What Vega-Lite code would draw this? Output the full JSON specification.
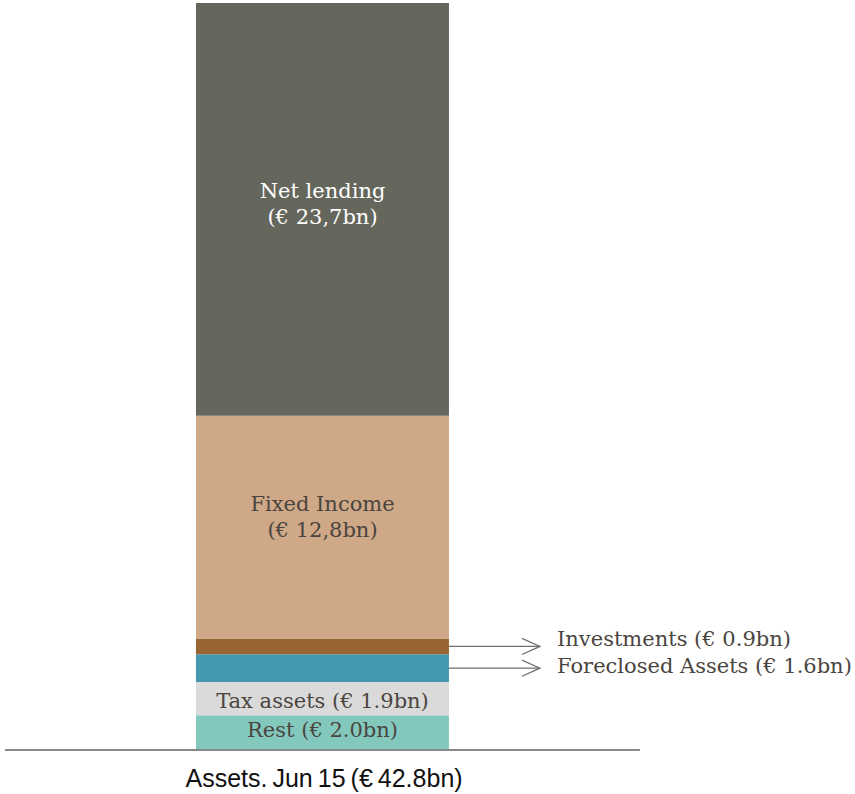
{
  "$schema": "https://vega.github.io/schema/vega-lite/v6.json",
  "width": 855,
  "height": 747,
  "padding": {"top": 3, "bottom": 44, "left": 0, "right": 0},
  "autosize": "none",
  "background": "white",
  "config": {"view": {"stroke": null}},
  "data": {"values": [
    {"name": "Rest", "value": 2.0, "order": 1, "label": "Rest (€ 2.0bn)"},
    {"name": "Tax assets", "value": 1.9, "order": 2, "label": "Tax assets (€ 1.9bn)"},
    {"name": "Foreclosed Assets", "value": 1.6, "order": 3, "label": "Foreclosed Assets (€ 1.6bn)"},
    {"name": "Investments", "value": 0.9, "order": 4, "label": "Investments (€ 0.9bn)"},
    {"name": "Fixed Income", "value": 12.8, "order": 5, "label": "Fixed Income\n(€ 12,8bn)"},
    {"name": "Net lending", "value": 23.7, "order": 6, "label": "Net lending\n(€ 23,7bn)"}
  ]},
  "transform": [
    {"stack": "value", "groupby": [], "sort": [{"field": "order", "order": "ascending"}], "as": ["y0", "y1"]},
    {"calculate": "(datum.y0 + datum.y1) / 2", "as": "mid"}
  ],
  "encoding": {
    "y": {"field": "mid", "type": "quantitative", "scale": {"domain": [0, 42.9], "nice": false, "zero": false}, "axis": null}
  },
  "layer": [
    {
      "mark": {"type": "bar"},
      "encoding": {
        "x": {"datum": 22.92, "type": "quantitative", "scale": {"domain": [0, 100], "nice": false, "zero": false}, "axis": null},
        "x2": {"datum": 52.51},
        "y": {"field": "y0", "type": "quantitative"},
        "y2": {"field": "y1"},
        "color": {"field": "name", "type": "nominal", "legend": null,
          "scale": {"domain": ["Rest", "Tax assets", "Foreclosed Assets", "Investments", "Fixed Income", "Net lending"],
                    "range": ["#83C8BC", "#DADADA", "#4398B0", "#996633", "#CFA888", "#66675C"]}}
      }
    },
    {
      "transform": [{"filter": "datum.name == 'Net lending'"}],
      "mark": {"type": "text", "font": "DejaVu Serif", "fontSize": 21, "lineBreak": "\n", "lineHeight": 26, "baseline": "middle", "align": "center", "dy": -17, "color": "#ffffff"},
      "encoding": {"x": {"datum": 37.72, "type": "quantitative"}, "text": {"field": "label"}}
    },
    {
      "transform": [{"filter": "datum.name == 'Fixed Income'"}],
      "mark": {"type": "text", "font": "DejaVu Serif", "fontSize": 21, "lineBreak": "\n", "lineHeight": 26, "baseline": "middle", "align": "center", "dy": -22, "color": "#4a4540"},
      "encoding": {"x": {"datum": 37.72, "type": "quantitative"}, "text": {"field": "label"}}
    },
    {
      "transform": [{"filter": "datum.name == 'Tax assets'"}],
      "mark": {"type": "text", "font": "DejaVu Serif", "fontSize": 21, "baseline": "middle", "align": "center", "dy": 3, "color": "#4a4540"},
      "encoding": {"x": {"datum": 37.72, "type": "quantitative"}, "text": {"field": "label"}}
    },
    {
      "transform": [{"filter": "datum.name == 'Rest'"}],
      "mark": {"type": "text", "font": "DejaVu Serif", "fontSize": 21, "baseline": "middle", "align": "center", "dy": -2, "color": "#4a4540"},
      "encoding": {"x": {"datum": 37.72, "type": "quantitative"}, "text": {"field": "label"}}
    },
    {
      "transform": [{"filter": "datum.name == 'Investments' || datum.name == 'Foreclosed Assets'"}],
      "mark": {"type": "rule", "color": "#707070", "strokeWidth": 1.3},
      "encoding": {"x": {"datum": 52.51, "type": "quantitative"}, "x2": {"datum": 63.16}}
    },
    {
      "transform": [{"filter": "datum.name == 'Investments' || datum.name == 'Foreclosed Assets'"}],
      "mark": {"type": "point", "shape": "M-1,-0.9L1,0L-1,0.9", "size": 324, "filled": false, "color": "#707070", "strokeWidth": 1.3, "opacity": 1},
      "encoding": {"x": {"datum": 62.1, "type": "quantitative"}}
    },
    {
      "transform": [{"filter": "datum.name == 'Investments'"}],
      "mark": {"type": "text", "font": "DejaVu Serif", "fontSize": 21, "baseline": "middle", "align": "left", "dy": -6, "color": "#4a4540"},
      "encoding": {"x": {"datum": 65.15, "type": "quantitative"}, "text": {"field": "label"}}
    },
    {
      "transform": [{"filter": "datum.name == 'Foreclosed Assets'"}],
      "mark": {"type": "text", "font": "DejaVu Serif", "fontSize": 21, "baseline": "middle", "align": "left", "dy": -1, "color": "#4a4540"},
      "encoding": {"x": {"datum": 65.15, "type": "quantitative"}, "text": {"field": "label"}}
    },
    {
      "data": {"values": [{"from": 0.585, "to": 74.85, "base": 0}]},
      "transform": [],
      "mark": {"type": "rule", "color": "#888888", "strokeWidth": 2},
      "encoding": {"x": {"field": "from", "type": "quantitative"}, "x2": {"field": "to"}, "y": {"field": "base", "type": "quantitative"}}
    },
    {
      "data": {"values": [{"base": 0, "title": "Assets.\u2009Jun\u200915\u2009(€\u200942.8bn)"}]},
      "transform": [],
      "mark": {"type": "text", "font": "Liberation Sans", "fontSize": 25, "baseline": "middle", "align": "center", "dy": 29, "color": "#111111"},
      "encoding": {"x": {"datum": 37.9, "type": "quantitative"}, "y": {"field": "base", "type": "quantitative"}, "text": {"field": "title"}}
    }
  ]
}
